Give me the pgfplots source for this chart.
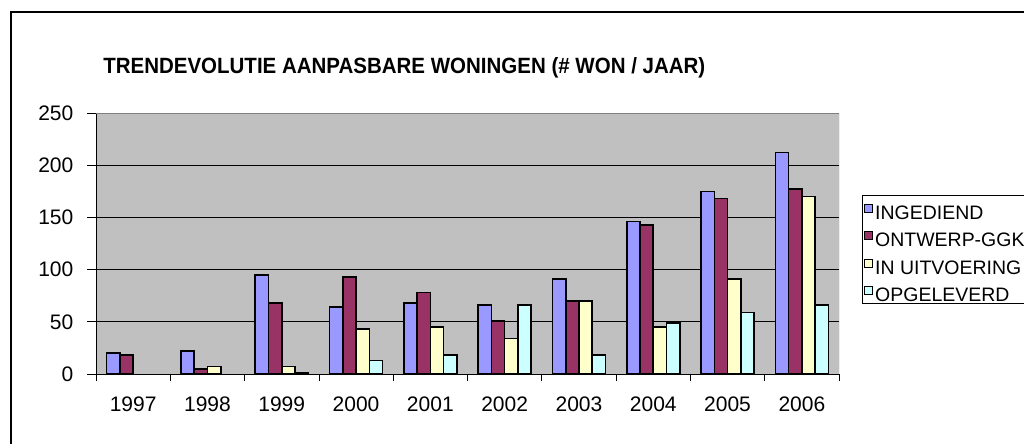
\documentclass[border=0pt]{standalone}
\usepackage{fontspec}
\setmainfont{Liberation Sans}
\usepackage{pgfplots}
\pgfplotsset{compat=1.18}
\definecolor{cIng}{HTML}{9999FF}
\definecolor{cOnt}{HTML}{993366}
\definecolor{cUit}{HTML}{FFFFCC}
\definecolor{cOpg}{HTML}{CCFFFF}
\definecolor{plotbg}{HTML}{C0C0C0}
\begin{document}
\begin{tikzpicture}
\path[use as bounding box, clip] (0,0) rectangle (768pt,332.25pt);
\begin{scope}[x=0.75pt,y=-0.75pt,shift={(0,332.25pt)}]
  \fill[white] (0,0) rectangle (1024,443);
  \draw[black, line width=1.5pt] (11,12) rectangle (1060,480);
  \node[anchor=base west, inner sep=0pt] at (103,74)
    {\resizebox{451.5pt}{12pt}{\bfseries TRENDEVOLUTIE AANPASBARE WONINGEN (\# WON / JAAR)}};
\end{scope}
\begin{axis}[
  at={(72pt,51.75pt)}, anchor=south west,
  scale only axis, width=557.25pt, height=195.75pt,
  xmin=-0.5, xmax=9.5, ymin=0, ymax=250,
  ybar=0pt, bar width=9.94pt,
  axis x line*=bottom, axis y line*=left,
  axis line style={black, line width=0.75pt, -},
  axis background/.style={fill=plotbg},
  ymajorgrids, grid style={black, line width=0.6pt},
  ytick={0,50,100,150,200,250},
  xtick={0,...,9},
  xticklabels={1997,1998,1999,2000,2001,2002,2003,2004,2005,2006},
  minor xtick={-0.5,0.5,1.5,2.5,3.5,4.5,5.5,6.5,7.5,8.5,9.5},
  every major x tick/.style={draw=none},
  tick align=outside,
  major tick length=6.5pt, minor tick length=5.25pt,
  tick style={black, line width=0.6pt},
  ticklabel style={font=\fontsize{15.75}{18}\selectfont},
  yticklabel style={xshift=-7pt},
  xticklabel style={yshift=-7pt},
  /pgf/number format/assume math mode=true,
  every axis plot/.append style={draw=black, line width=1.2pt},
  legend image code/.code={\path[draw=none,fill=none] (0pt,-3pt) -- (0pt,8.6pt);\draw[#1, line width=0.6pt] (0pt,-3pt) rectangle (6pt,3pt);},
  legend style={at={(1.031,0.686)}, anchor=north west, draw=black, line width=0.6pt,
    fill=white, font=\fontsize{14.6}{16}\selectfont,
    inner xsep=1.5pt, inner ysep=1.2pt, row sep=4pt,
    nodes={inner sep=0pt, text height=16pt, text depth=0pt},
    /tikz/every odd column/.style={column sep=1.5pt},
    cells={anchor=west}},
]
\addplot[fill=cIng] coordinates {(0,20) (1,22) (2,95) (3,64) (4,68) (5,66) (6,91) (7,146) (8,175) (9,212)};
\addplot[fill=cOnt] coordinates {(0,18) (1,5) (2,68) (3,93) (4,78) (5,51) (6,70) (7,143) (8,168) (9,177)};
\addplot[fill=cUit] coordinates {(1,7) (2,7) (3,43) (4,45) (5,34) (6,70) (7,45) (8,91) (9,170)};
\addplot[fill=cOpg] coordinates {(2,1) (3,13) (4,18) (5,66) (6,18) (7,49) (8,59) (9,66)};
\legend{INGEDIEND,ONTWERP-GGK\hspace*{12pt},IN UITVOERING,OPGELEVERD}
\draw[gray, line width=0.75pt] (rel axis cs:0,1) -- (rel axis cs:1,1) -- (rel axis cs:1,0);
\end{axis}
\end{tikzpicture}
\end{document}
